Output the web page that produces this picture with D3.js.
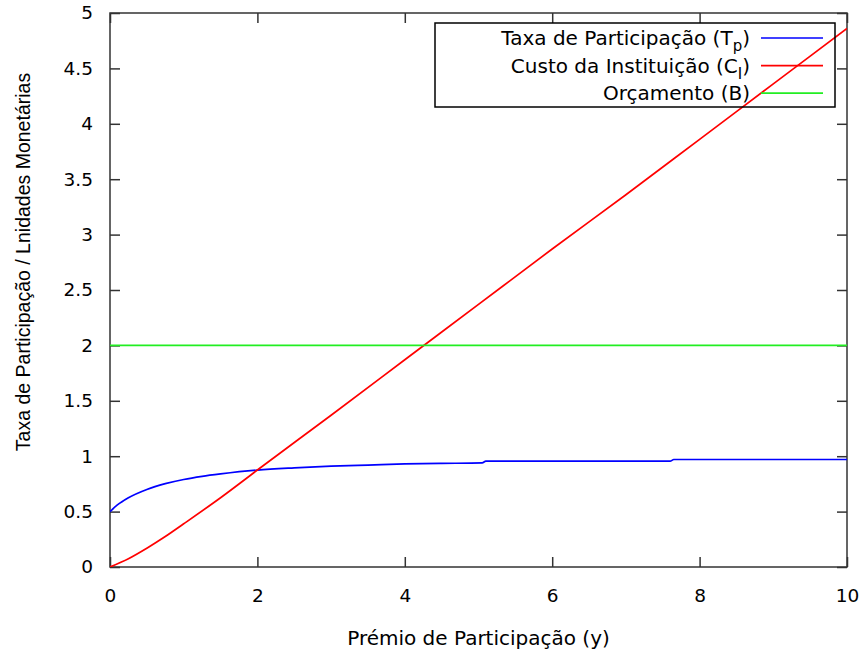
<!DOCTYPE html>
<html>
<head>
<meta charset="utf-8">
<script src="https://cdn.jsdelivr.net/npm/d3@7"></script>
<style>
    body { margin: 0; background: #fff; }
    text { font-family: "DejaVu Sans", Verdana, sans-serif; fill: #000; }
</style>
</head>
<body>
<svg></svg>
<script>
"use strict";

// values
var premio = [0, 0.1, 0.25, 0.5, 0.75, 1, 1.25, 1.5, 2, 2.5, 3, 3.5, 4, 4.5, 5.05, 5.1, 7.6, 7.65, 10];
var taxa = [0.5, 0.56, 0.625, 0.70, 0.752, 0.79, 0.818, 0.84, 0.875, 0.895, 0.91, 0.92, 0.93, 0.935, 0.94, 0.955, 0.955, 0.97, 0.97];

var premioCusto = [0, 0.25, 0.5, 0.75, 1, 1.5, 2, 3, 4, 5, 6, 7, 8, 9, 10];
var custo = [0, 0.075, 0.17, 0.275, 0.39, 0.625, 0.875, 1.37, 1.87, 2.37, 2.87, 3.36, 3.86, 4.36, 4.86];

var orcamentoX = [0, 10];
var orcamento = [2, 2];

var xTicks = [0, 2, 4, 6, 8, 10];
var yTicks = [0, 0.5, 1, 1.5, 2, 2.5, 3, 3.5, 4, 4.5, 5];

var series = [
    {label: 'Taxa de Participação (T', sub: 'p', color: '#0000ff', xs: premio, ys: taxa},
    {label: 'Custo da Instituição (C', sub: 'I', color: '#ff0000', xs: premioCusto, ys: custo},
    {label: 'Orçamento (B)', sub: null, color: '#22ee22', xs: orcamentoX, ys: orcamento}
];

var settings = {
    width: 861,
    height: 652,
    margin: {left: 110, top: 13, right: 14, bottom: 85},
    tick: 10,
    border: '#333',
    font: 20,
    tickFont: 18.5
};

var svg = d3.select('svg')
    .attr('width', settings.width)
    .attr('height', settings.height);

var m = settings.margin;
var w = settings.width - m.left - m.right;
var h = settings.height - m.top - m.bottom;

var x = d3.scaleLinear().domain([0, 10]).range([m.left, m.left + w]);
var y = d3.scaleLinear().domain([0, 5]).range([m.top + h, m.top]);

var axes = svg.append('g');

// ticks, mirrored on top and right like gnuplot
axes.append('g')
    .attr('transform', `translate(0,${m.top + h})`)
    .call(d3.axisBottom(x).tickValues(xTicks).tickSize(-settings.tick).tickPadding(22).tickFormat(d3.format('d')))
    .call(g => g.select('.domain').remove());
axes.append('g')
    .attr('transform', `translate(0,${m.top})`)
    .call(d3.axisTop(x).tickValues(xTicks).tickSize(-settings.tick).tickFormat(''))
    .call(g => g.select('.domain').remove());
axes.append('g')
    .attr('transform', `translate(${m.left},0)`)
    .call(d3.axisLeft(y).tickValues(yTicks).tickSize(-settings.tick).tickPadding(17).tickFormat(d3.format('')))
    .call(g => g.select('.domain').remove());
axes.append('g')
    .attr('transform', `translate(${m.left + w},0)`)
    .call(d3.axisRight(y).tickValues(yTicks).tickSize(-settings.tick).tickFormat(''))
    .call(g => g.select('.domain').remove());

axes.selectAll('.tick line')
    .attr('stroke', settings.border)
    .attr('stroke-width', 1.5);
axes.selectAll('.tick text')
    .style('font-family', '"DejaVu Sans", Verdana, sans-serif')
    .style('font-size', settings.tickFont + 'px')
    .attr('fill', '#000');

axes.append('rect')
    .attr('x', m.left)
    .attr('y', m.top)
    .attr('width', w)
    .attr('height', h)
    .attr('fill', 'none')
    .attr('stroke', settings.border)
    .attr('stroke-width', 1.5);

// axis titles
svg.append('text')
    .attr('x', m.left + w / 2)
    .attr('y', 645)
    .attr('text-anchor', 'middle')
    .style('font-size', settings.font + 'px')
    .text('Prémio de Participação (y)');

svg.append('text')
    .attr('transform', 'translate(30,262) rotate(-90)')
    .attr('text-anchor', 'middle')
    .style('font-family', '"Liberation Sans", Arial, sans-serif')
    .style('font-size', '19.5px')
    .text('Taxa de Participação / Lnidades Monetárias');

// curves
svg.append('clipPath').attr('id', 'plot')
    .append('rect')
    .attr('x', m.left).attr('y', m.top)
    .attr('width', w).attr('height', h);

var line = d3.line()
    .x(d => x(d[0]))
    .y(d => y(d[1]))
    .curve(d3.curveMonotoneX);

svg.append('g')
    .attr('clip-path', 'url(#plot)')
    .selectAll('path')
    .data(series)
    .enter()
    .append('path')
    .attr('d', d => line(d.xs.map((v, i) => [v, d.ys[i]])))
    .attr('fill', 'none')
    .attr('stroke', d => d.color)
    .attr('stroke-width', 1.7);

// legend
var legend = svg.append('g');
legend.append('rect')
    .attr('x', 435)
    .attr('y', 23)
    .attr('width', 400)
    .attr('height', 84)
    .attr('fill', 'none')
    .attr('stroke', '#000')
    .attr('stroke-width', 1.5);

var rows = legend.selectAll('.row')
    .data(series)
    .enter()
    .append('g')
    .attr('class', 'row')
    .attr('transform', (d, i) => `translate(0,${38 + i * 27.6})`);

rows.append('line')
    .attr('x1', 761)
    .attr('x2', 823)
    .attr('stroke', d => d.color)
    .attr('stroke-width', 1.7);

var labels = rows.append('text')
    .attr('x', 750)
    .attr('dy', '0.36em')
    .attr('text-anchor', 'end')
    .style('font-size', settings.font + 'px');

labels.append('tspan').text(d => d.label);
labels.filter(d => d.sub)
    .append('tspan')
    .attr('dy', 6)
    .style('font-size', '15px')
    .text(d => d.sub);
labels.filter(d => d.sub)
    .append('tspan')
    .attr('dy', -6)
    .text(')');
</script>
</body>
</html>
